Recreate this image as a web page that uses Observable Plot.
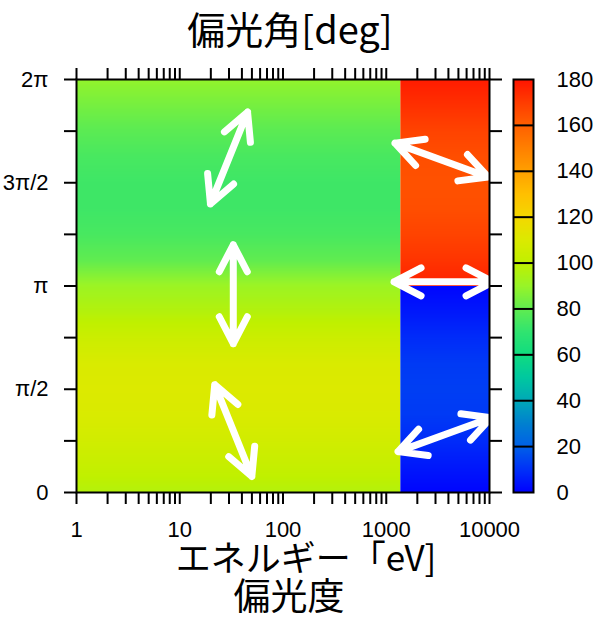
<!DOCTYPE html>
<html>
<head>
<meta charset="utf-8">
<script src="https://cdn.jsdelivr.net/npm/d3@7"></script>
<script src="https://cdn.jsdelivr.net/npm/@observablehq/plot@0.6"></script>
<style>
  body { margin: 0; background: #fff; }
  #chart { position: relative; width: 597px; height: 621px; overflow: hidden; }
  #chart svg { position: absolute; top: 0; }
  .lbl {
    position: absolute; width: 400px; text-align: center; white-space: nowrap;
    font-family: "Noto Sans CJK JP", sans-serif; line-height: 34px; color: #000;
  }
</style>
</head>
<body>
<div id="chart">
  <div class="lbl" style="left:90px; top:11px; font-size:38px;">偏光角[deg]</div>
  <div class="lbl" style="left:106px; top:542px; font-size:35px; line-height:28px;">エネルギー「eV]</div>
  <div class="lbl" style="left:89px; top:577px; font-size:37px;">偏光度</div>
</div>
<script>
const PI = Math.PI;

// Energy axis [eV]
const energyDomain = [1, 10000];
const xTickLabels = [1, 10, 100, 1000, 10000];
// Energy above which the polarization pattern changes
const switchEnergy = 1370;

// Polarization angle [deg] versus phase (phase in units of π)
const leftPhase = [0, 0.125, 0.25, 0.375, 0.5, 0.625, 0.75, 0.875, 1, 1.125, 1.25, 1.375, 1.5, 1.625, 1.75, 1.875, 2];
const leftAngle = [97, 102, 106, 109, 110, 109, 104, 97, 91, 80, 75, 73, 73, 75, 79, 84, 89];
const lowPhase = [0, 0.125, 0.25, 0.375, 0.5, 0.625, 0.75, 0.875, 1];
const lowAngle = [1, 5, 9, 12, 13, 12, 9, 5, 1];
const highPhase = [1, 1.125, 1.25, 1.375, 1.5, 1.625, 1.75, 1.875, 2];
const highAngle = [177, 172, 168, 165, 164, 165, 168, 173, 178];

// Phase axis ticks (units of π)
const yTickValues = [0, 0.25, 0.5, 0.75, 1, 1.25, 1.5, 1.75, 2];
const yLabelValues = [0, 0.5, 1, 1.5, 2];
const yTickLabels = ["0", "π/2", "π", "3π/2", "2π"];

// Colour scale for the angle
const colorTicks = [0, 20, 40, 60, 80, 100, 120, 140, 160, 180];
const colorStops = [0, 10, 20, 30, 40, 50, 60, 70, 80, 90, 100, 110, 120, 130, 140, 150, 160, 170, 180];
const colorRange = ["#0000ff", "#0030f8", "#0060e8", "#0080d0", "#00a8b8", "#00c8a0", "#10dc80", "#30e470",
  "#60ec50", "#98f428", "#c0f000", "#dcea00", "#f4d800", "#ffc000", "#ffa000", "#ff8000", "#ff6000", "#ff3c00", "#ff1400"];

// Polarization direction arrows
const arrowEnergy = [30, 33, 33, 3430, 3590, 3670];
const arrowPhase = [1.62, 0.96, 0.30, 1.61, 1.02, 0.28];
const arrowAngle = [68, 90, 112, 160, 180, 20];

const color = {type: "linear", domain: colorStops, range: colorRange, clamp: true};
const tickFont = "'Liberation Sans', Arial, sans-serif";
const tickFontSize = 22;

// samples for one band of the map: the angle only depends on phase, so each phase
// sample is placed at both energy edges of the band
function band(phases, angles, e0, e1) {
  return phases.flatMap((p, i) => [
    {e: e0, p: p * PI, a: angles[i]},
    {e: e1, p: p * PI, a: angles[i]}
  ]);
}

const arrows = arrowEnergy.map((e, i) => ({e, p: arrowPhase[i] * PI, a: arrowAngle[i]}));

// double-headed arrow used for the polarization direction
const doubleArrow = {
  draw(context, l) {
    const back = 27, side = 14;
    context.moveTo(0, 0);
    context.lineTo(0, -l);
    context.moveTo(-side, back - l);
    context.lineTo(0, -l);
    context.lineTo(side, back - l);
    context.moveTo(-side, -back);
    context.lineTo(0, 0);
    context.lineTo(side, -back);
  }
};

const arrowStyle = {stroke: "white", strokeWidth: 7, strokeLinecap: "round", strokeLinejoin: "round"};
let arrowMarks;
try {
  arrowMarks = [Plot.vector(arrows, {x: "e", y: "p", rotate: (d) => 90 - d.a, length: 99, shape: doubleArrow, ...arrowStyle})];
} catch (err) {
  arrowMarks = [
    Plot.vector(arrows, {x: "e", y: "p", rotate: (d) => 90 - d.a, length: 50, anchor: "start", r: 6, ...arrowStyle}),
    Plot.vector(arrows, {x: "e", y: "p", rotate: (d) => 270 - d.a, length: 50, anchor: "start", r: 6, ...arrowStyle})
  ];
}

const xMinorTicks = d3.scaleLog().domain(energyDomain).ticks();
const yTicks = yTickValues.map((v) => v * PI);
const yLabels = yLabelValues.map((v) => v * PI);
const yLabelText = new Map(yLabels.map((v, i) => [v, yTickLabels[i]]));

const tickOpts = {tickSize: 12, strokeWidth: 2, stroke: "black", fill: "none", label: null};

const main = Plot.plot({
  width: 597,
  height: 621,
  marginLeft: 76,
  marginRight: 108,
  marginTop: 79,
  marginBottom: 129,
  style: {fontFamily: tickFont, fontSize: `${tickFontSize}px`, color: "black", background: "transparent"},
  x: {type: "log", domain: energyDomain, label: null, axis: null},
  y: {domain: [0, 2 * PI], label: null, axis: null},
  color,
  marks: [
    Plot.raster(band(leftPhase, leftAngle, energyDomain[0], switchEnergy), {
      x: "e", y: "p", fill: "a", interpolate: "barycentric",
      x1: energyDomain[0], x2: switchEnergy, y1: 0, y2: 2 * PI
    }),
    Plot.raster(band(lowPhase, lowAngle, switchEnergy, energyDomain[1]), {
      x: "e", y: "p", fill: "a", interpolate: "barycentric",
      x1: switchEnergy, x2: energyDomain[1], y1: 0, y2: PI
    }),
    Plot.raster(band(highPhase, highAngle, switchEnergy, energyDomain[1]), {
      x: "e", y: "p", fill: "a", interpolate: "barycentric",
      x1: switchEnergy, x2: energyDomain[1], y1: PI, y2: 2 * PI
    }),
    ...arrowMarks,
    Plot.frame({stroke: "black", strokeWidth: 2}),
    Plot.axisX(xMinorTicks, {anchor: "bottom", ...tickOpts}),
    Plot.axisX(xMinorTicks, {anchor: "top", ...tickOpts}),
    Plot.axisX(xTickLabels, {anchor: "bottom", tickSize: 0, tickPadding: 29, tickFormat: (d) => String(d), fill: "black", fontSize: tickFontSize, label: null}),
    Plot.axisY(yTicks, {anchor: "left", ...tickOpts}),
    Plot.axisY(yTicks, {anchor: "right", ...tickOpts}),
    Plot.axisY(yLabels, {anchor: "left", tickSize: 0, tickPadding: 28, tickFormat: (d) => yLabelText.get(d), fill: "black", fontSize: tickFontSize, label: null})
  ]
});
main.style.left = "0px";

// vertical colour bar for the angle
const bar = Plot.plot({
  width: 107,
  height: 621,
  marginLeft: 23,
  marginRight: 64,
  marginTop: 79,
  marginBottom: 129,
  style: {fontFamily: tickFont, fontSize: `${tickFontSize}px`, color: "black", background: "transparent"},
  x: {domain: [0, 1], axis: null},
  y: {domain: [colorTicks[0], colorTicks[colorTicks.length - 1]], axis: null, label: null},
  color,
  marks: [
    Plot.raster({fill: (x, y) => y, x1: 0, x2: 1, y1: colorTicks[0], y2: colorTicks[colorTicks.length - 1]}),
    Plot.ruleY(colorTicks.slice(1, -1), {stroke: "black", strokeWidth: 2}),
    Plot.frame({stroke: "black", strokeWidth: 2}),
    Plot.axisY(colorTicks, {anchor: "right", tickSize: 0, tickPadding: 23, fill: "black", fontSize: tickFontSize, label: null})
  ]
});
bar.style.left = "490px";

const chart = document.getElementById("chart");
chart.insertBefore(main, chart.firstChild);
chart.insertBefore(bar, chart.firstChild.nextSibling);
</script>
</body>
</html>
